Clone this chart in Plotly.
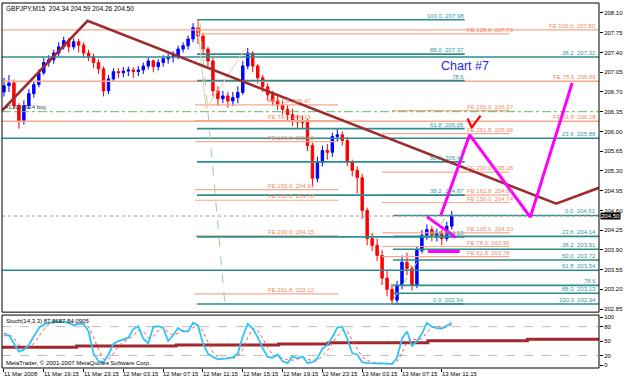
import plotly.graph_objects as go

# ---------------- data ----------------
title_text = "GBPJPY,M15  204.34 204.59 204.26 204.50"

closes = [206.81, 206.86, 206.46, 206.19, 206.46, 206.67, 206.83, 207.04, 207.22, 207.27,
          207.39, 207.50, 207.61, 207.50, 207.59, 207.53, 207.39, 207.32, 207.22, 207.11,
          206.72, 206.93, 207.06, 207.04, 207.07, 207.09, 207.06, 207.09, 207.16, 207.25,
          207.15, 207.22, 207.29, 207.32, 207.34, 207.46, 207.52, 207.64, 207.84, 207.69,
          207.46, 207.25, 206.72, 206.58, 206.63, 206.54, 206.60, 206.69, 207.16, 207.39,
          207.16, 206.95, 206.79, 206.65, 206.54, 206.47, 206.39, 206.30, 206.19, 206.17,
          206.16, 205.75, 205.17, 205.45, 205.66, 205.63, 205.91, 205.94, 205.84, 205.45,
          205.31, 205.18, 204.60, 204.10, 203.98, 203.80, 203.40, 203.20, 203.01, 203.27,
          203.68, 203.57, 203.27, 203.89, 204.16, 204.26, 204.16, 204.19, 204.10, 204.32,
          204.50]
highs = [206.95, 207.00, 206.92, 206.50, 206.55, 206.75, 206.90, 207.10, 207.30, 207.35,
         207.45, 207.58, 207.68, 207.66, 207.65, 207.64, 207.58, 207.45, 207.38, 207.28,
         207.15, 207.00, 207.12, 207.12, 207.14, 207.15, 207.14, 207.16, 207.22, 207.30,
         207.28, 207.28, 207.35, 207.38, 207.42, 207.52, 207.58, 207.70, 207.92, 207.98,
         207.75, 207.50, 207.30, 206.80, 206.72, 206.70, 206.70, 206.80, 207.25, 207.48,
         207.42, 207.20, 207.00, 206.85, 206.72, 206.62, 206.55, 206.47, 206.40, 206.30,
         206.28, 206.22, 205.80, 205.55, 205.75, 205.78, 205.98, 206.04, 206.00, 205.90,
         205.50, 205.38, 205.25, 204.65, 204.20, 204.10, 203.90, 203.55, 203.30, 203.35,
         203.80, 203.85, 203.62, 203.95, 204.25, 204.35, 204.32, 204.28, 204.25, 204.40,
         204.59]
lows = [206.62, 206.70, 206.40, 206.05, 206.12, 206.40, 206.60, 206.78, 207.00, 207.15,
        207.20, 207.33, 207.45, 207.40, 207.45, 207.40, 207.30, 207.25, 207.12, 207.02,
        206.62, 206.66, 206.88, 206.95, 206.96, 206.98, 206.95, 206.98, 207.02, 207.10,
        207.05, 207.08, 207.15, 207.20, 207.22, 207.28, 207.40, 207.45, 207.58, 207.55,
        207.35, 207.15, 206.62, 206.45, 206.50, 206.42, 206.45, 206.50, 206.65, 207.10,
        207.05, 206.85, 206.70, 206.55, 206.45, 206.38, 206.30, 206.20, 206.10, 206.05,
        206.05, 205.65, 205.02, 205.10, 205.38, 205.50, 205.55, 205.82, 205.75, 205.38,
        205.20, 204.90, 204.45, 203.98, 203.88, 203.70, 203.28, 203.08, 202.94, 202.96,
        203.20, 203.45, 203.18, 203.22, 203.85, 204.08, 204.05, 204.05, 203.98, 204.05,
        204.26]
first_open = 206.70
opens = [first_open] + closes[:-1]
bars = list(range(len(closes)))

stoch_main = [62, 62, 45, 28, 32, 42, 60, 77, 85, 88,
              90, 90, 90, 88, 83, 86, 86, 70, 24, 8,
              6, 22, 44, 50, 53, 57, 75, 81, 55, 45,
              79, 81, 78, 50, 62, 77, 70, 70, 88, 82,
              45, 23, 17, 12, 13, 14, 16, 24, 60, 86,
              76, 58, 35, 17, 15, 22, 8, 4, 18, 14,
              18, 4, 6, 14, 34, 42, 58, 78, 80, 55,
              25, 22, 6, 4, 4, 4, 4, 3, 2, 15,
              55, 70, 40, 50, 65, 88, 80, 77, 76, 82,
              88]
stoch_signal = [66, 64, 56, 42, 33, 35, 45, 60, 74, 84,
                88, 89, 90, 89, 87, 85, 85, 80, 58, 32,
                12, 12, 24, 39, 49, 53, 62, 72, 70, 57,
                60, 72, 79, 68, 62, 66, 72, 71, 78, 84,
                70, 48, 27, 17, 14, 13, 14, 18, 33, 58,
                76, 72, 56, 36, 22, 17, 15, 11, 10, 12,
                16, 12, 9, 8, 18, 30, 45, 60, 72, 70,
                52, 33, 17, 10, 5, 4, 4, 4, 3, 7,
                25, 48, 55, 52, 55, 68, 78, 82, 78, 78,
                84]
stoch_levels = [20, 80]
slow_x = [-0.4, 14.6, 34.6, 55.2, 65.2, 85.2, 105.2, 119.6]
slow_y = [37, 39.5, 41.5, 44, 46.5, 50.5, 53.5, 53.5]
stoch_label = "Stoch(14,3,3) 87.8687 84.0905"
copyright_text = "MetaTrader, © 2001-2007 MetaQuotes Software Corp."

date_tick_bars = [0, 8, 16, 24, 32, 40, 48, 56, 64, 72, 80, 88]
date_tick_labels = ["11 Mar 2008", "11 Mar 19:15", "11 Mar 23:15", "12 Mar 03:15",
                    "12 Mar 07:15", "12 Mar 11:15", "12 Mar 15:15", "12 Mar 19:15",
                    "12 Mar 23:15", "13 Mar 03:15", "13 Mar 07:15", "13 Mar 11:15"]
price_ticks = [208.10, 207.75, 207.40, 207.05, 206.70, 206.35, 206.00, 205.65,
               205.30, 204.95, 204.60, 204.25, 203.90, 203.55, 203.20, 202.85]
stoch_ticks = [0, 20, 50, 80, 100]

X0, X1 = -0.4, 119.6
P0, P1 = 202.796, 208.277

# Fibonacci retracement (left)
fibA_levels = [207.98, 207.37, 206.90, 206.05, 205.46, 204.87, 204.13, 202.94]
fibA_labels = ["100.0  207.98", "88.0  207.37", "78.6", "61.8  206.05",
               "50.0  205.46", "38.2  204.87", "23.6  204.13", "0.0  202.94"]
fibA_start, fibA_end = 38.8, 92.6
# Fibonacci retracement (right)
fibB_levels = [204.51, 204.14, 203.91, 203.72, 203.54, 203.27, 203.13, 202.94, 207.32, 205.88]
fibB_labels = ["0.0  204.51", "23.6  204.14", "38.2  203.91", "50.0  203.72", "61.8  203.54",
               "78.6", "88.0  203.13", "100.0  202.94", "38.2  207.32", "23.6  205.88"]
fibB_start = [78.2, 78.2, 78.2, 78.2, -0.4, 78.2, 78.2, 78.2, -0.4, -0.4]
# Fibonacci expansions
feA_levels = [206.47, 206.19, 205.82, 204.97, 204.78, 204.15, 203.12]
feA_labels = ["FE 61.8  206.47", "FE 78.6  206.19", "FE 100.0  205.82", "FE 150.0  204.97",
              "FE 161.8  204.78", "FE 200.0  204.15", "FE 261.8  203.12"]
feA_start, feA_end, feA_text_x = 38.4, 67.2, 52.8
feB_levels = [207.73, 206.37, 205.96, 205.28, 204.87, 204.74, 204.20, 203.96, 203.78]
feB_labels = ["FE 125.0  207.73", "FE 200.0  206.37", "FE 261.8  205.96", "FE 200.0  205.28",
              "FE 161.8  204.87", "FE 150.0  204.74", "FE 100.0  204.20", "FE 78.6  203.96",
              "FE 61.8  203.78"]
feB_start = [38.4, 78.0, 76.0, 76.0, 76.0, 76.0, 76.0, 76.0, 76.0]
feB_end, feB_text_x = 101.6, 92.8
feC_levels = [207.80, 206.89, 206.18]
feC_labels = ["FE 100.0  207.80", "FE 78.6  206.89", "FE 61.8  206.18"]

trend_x = [-0.4, 16.8, 111.0, 119.6]
trend_y = [206.37, 207.96, 204.72, 205.00]
proj_x = [87.8, 93.6, 105.8, 114.2]
proj_y = [204.51, 205.94, 204.48, 206.86]
pennant_x = [85.0, 90.8]
pennant_y = [204.49, 204.12]
pennant_base_x = [85.2, 91.6]
pennant_base_y = [203.87, 203.87]
check_x = [93.2, 94.0, 95.8]
check_y = [206.23, 206.07, 206.28]
trade1_x = [39.4, 44.4]
trade1_y = [207.92, 202.94]
trade2_x = [78.2, 88.6]
trade2_y = [203.01, 204.46]
zig_x = [38.8, 40.6, 48.6]
zig_y = [207.98, 206.40, 207.48]
buy_level = 206.35
buy_label = "#13941524 buy"
bid_price = 204.50
chart_label = "Chart #7"
chart_label_pos = (92.6, 207.16)

# ---------------- styles ----------------
TEAL = "#2B8E8E"
TEAL_TXT = "#3A9A9A"
SALMON = "#F6A98C"
SALMON_TXT = "#F08A68"
FONT = "Liberation Sans, Arial, sans-serif"

fig = go.Figure()
ann = []


def hline(x0, x1, y, color, width=1.4, dash="solid", yaxis="y"):
    fig.add_trace(go.Scatter(x=[x0, x1], y=[y, y], mode="lines", yaxis=yaxis,
                             line=dict(color=color, width=width, dash=dash),
                             hoverinfo="skip", showlegend=False))


def label(x, y, text, color, anchor):
    ann.append(dict(x=x, y=y, xref="x", yref="y", text=text.replace("  ", "\u00a0\u00a0"),
                    showarrow=False, xanchor=anchor, yanchor="bottom",
                    font=dict(family=FONT, size=6, color=color), borderpad=0))


# horizontal levels
for lv in feC_levels:
    hline(X0, X1, lv, SALMON)
for lv, lb in zip(feC_levels, feC_labels):
    label(X1 - 0.4, lv, lb, SALMON_TXT, "right")
for lv in feA_levels:
    hline(feA_start, feA_end, lv, SALMON, 1.2)
for lv, lb in zip(feA_levels, feA_labels):
    label(feA_text_x, lv, lb, SALMON_TXT, "left")
for lv, st in zip(feB_levels, feB_start):
    hline(st, feB_end, lv, SALMON, 1.2)
for lv, lb in zip(feB_levels, feB_labels):
    label(feB_text_x, lv, lb, SALMON_TXT, "left")
for lv in fibA_levels:
    hline(fibA_start, fibA_end, lv, TEAL, 1.6)
for lv, lb in zip(fibA_levels, fibA_labels):
    label(fibA_end, lv, lb, TEAL_TXT, "right")
for lv, st in zip(fibB_levels, fibB_start):
    hline(st, X1, lv, TEAL, 1.6)
for lv, lb in zip(fibB_levels, fibB_labels):
    label(X1 - 0.4, lv, lb, TEAL_TXT, "right")

hline(X0, X1, buy_level, "#5CBF5C", 1, "dashdot")
hline(X0, X1, bid_price, "#9A9A9A", 1, "dot")

# thin zigzag + trade lines
fig.add_trace(go.Scatter(x=zig_x, y=zig_y, mode="lines", line=dict(color="#F7C4B0", width=1),
                         hoverinfo="skip", showlegend=False))
for tx, ty in ((trade1_x, trade1_y), (trade2_x, trade2_y)):
    fig.add_trace(go.Scatter(x=tx, y=ty, mode="lines", line=dict(color="#8FD68F", width=1, dash="dash"),
                             hoverinfo="skip", showlegend=False))

# candles
fig.add_trace(go.Candlestick(x=bars, open=opens, high=highs, low=lows, close=closes,
                             increasing=dict(line=dict(color="#0000FF", width=1), fillcolor="#0000FF"),
                             decreasing=dict(line=dict(color="#FF0000", width=1), fillcolor="#FF0000"),
                             whiskerwidth=0, hoverinfo="skip", showlegend=False))

# trend line (maroon)
fig.add_trace(go.Scatter(x=trend_x, y=trend_y, mode="lines", line=dict(color="#9E2B2F", width=2.6),
                         hoverinfo="skip", showlegend=False))
# projections (magenta)
for px_, py_ in ((proj_x, proj_y), (pennant_x, pennant_y), (pennant_base_x, pennant_base_y)):
    fig.add_trace(go.Scatter(x=px_, y=py_, mode="lines", line=dict(color="#FF00FF", width=3),
                             hoverinfo="skip", showlegend=False))
fig.add_trace(go.Scatter(x=check_x, y=check_y, mode="lines", line=dict(color="#FF0000", width=2.2),
                         hoverinfo="skip", showlegend=False))

# stochastic pane
for lv in stoch_levels:
    hline(X0, X1, lv, "#BDBDBD", 1, "dash", yaxis="y2")
fig.add_trace(go.Scatter(x=slow_x, y=slow_y, yaxis="y2", mode="lines", line_shape="hv",
                         line=dict(color="#A3282C", width=3), hoverinfo="skip", showlegend=False))
fig.add_trace(go.Scatter(x=bars, y=stoch_signal, yaxis="y2", mode="lines",
                         line=dict(color="#FF4A4A", width=1, dash="dot"), hoverinfo="skip", showlegend=False))
fig.add_trace(go.Scatter(x=bars, y=stoch_main, yaxis="y2", mode="lines",
                         line=dict(color="#2EC4F5", width=1.8), hoverinfo="skip", showlegend=False))

# texts
ann.append(dict(x=0, y=1, xref="paper", yref="paper", text=title_text, showarrow=False,
                xanchor="left", yanchor="top", xshift=2, yshift=0,
                font=dict(family=FONT, size=6.5, color="#000000")))
ann.append(dict(x=X0, y=buy_level, xref="x", yref="y", text=buy_label, showarrow=False,
                xanchor="left", yanchor="bottom", xshift=1,
                font=dict(family=FONT, size=6, color="#404040")))
ann.append(dict(x=chart_label_pos[0], y=chart_label_pos[1], xref="x", yref="y", text=chart_label,
                showarrow=False, xanchor="center", yanchor="middle",
                font=dict(family=FONT, size=12.5, color="#1E28E6")))
ann.append(dict(x=1, y=bid_price, xref="paper", yref="y", text="204.50", showarrow=False,
                xanchor="left", yanchor="middle", bgcolor="#000000", borderpad=0, xshift=1,
                font=dict(family=FONT, size=6, color="#FFFFFF")))
ann.append(dict(x=0, y=1, xref="paper", yref="y2 domain", text=stoch_label, showarrow=False,
                xanchor="left", yanchor="top", xshift=2, yshift=-1,
                font=dict(family=FONT, size=6, color="#000000")))
ann.append(dict(x=0, y=0, xref="paper", yref="y2 domain", text=copyright_text, showarrow=False,
                xanchor="left", yanchor="bottom", xshift=2, yshift=0,
                font=dict(family=FONT, size=6, color="#000000")))
for tb, tl in zip(date_tick_bars, date_tick_labels):
    ann.append(dict(x=tb, y=0, xref="x", yref="paper", text=tl, showarrow=False,
                    xanchor="left", yanchor="top", xshift=-2, yshift=-1,
                    font=dict(family=FONT, size=6, color="#000000")))

shapes = [
    dict(type="rect", xref="x domain", yref="y domain", x0=0, x1=1, y0=0, y1=1,
         line=dict(color="#000000", width=1)),
    dict(type="rect", xref="x domain", yref="y2 domain", x0=0, x1=1, y0=0, y1=1,
         line=dict(color="#000000", width=1)),
]

axis_font = dict(family=FONT, size=6, color="#000000")
fig.update_layout(
    width=625, height=380,
    margin=dict(l=2, r=23, t=2, b=12),
    paper_bgcolor="#FFFFFF", plot_bgcolor="#FFFFFF",
    showlegend=False,
    annotations=ann, shapes=shapes,
    xaxis=dict(range=[X0, X1], anchor="y2", showgrid=False, zeroline=False,
               tickvals=date_tick_bars, ticks="outside", ticklen=3, tickcolor="#000000",
               showticklabels=False, showline=False, rangeslider=dict(visible=False)),
    yaxis=dict(domain=[0.153, 1], range=[P0, P1], side="right", anchor="x",
               tickvals=price_ticks, ticktext=[f"{v:.2f}" for v in price_ticks],
               ticks="outside", ticklen=3, tickcolor="#000000", tickfont=axis_font,
               showgrid=False, zeroline=False, showline=False),
    yaxis2=dict(domain=[0, 0.145], range=[-6.25, 104.2], side="right", anchor="x",
                tickvals=stoch_ticks, ticks="outside", ticklen=3, tickcolor="#000000",
                tickfont=axis_font, showgrid=False, zeroline=False, showline=False),
)

fig.write_html("out.html")
